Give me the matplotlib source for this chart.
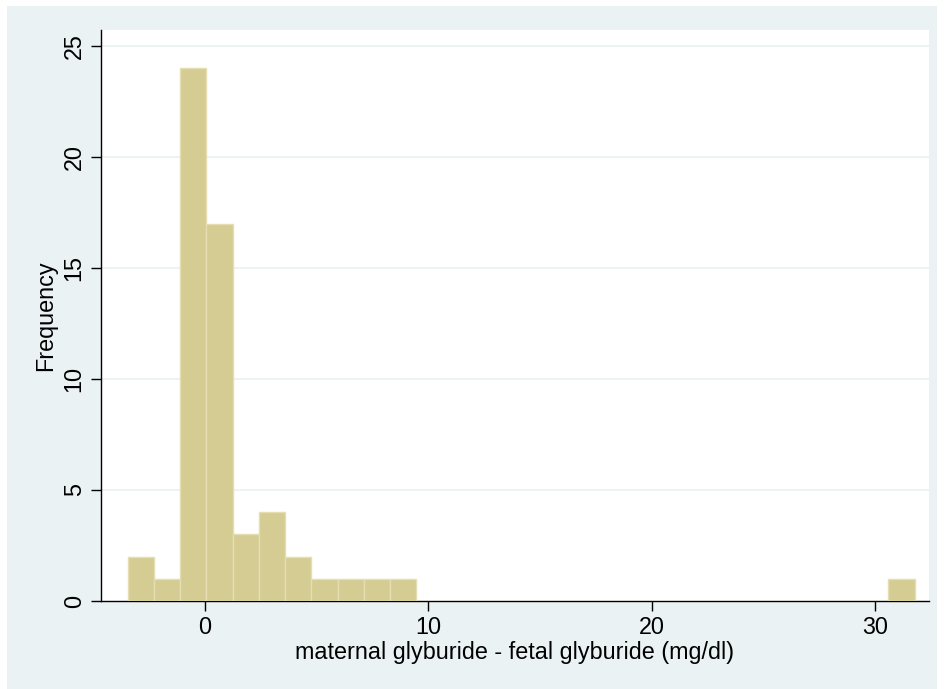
import matplotlib
matplotlib.use("Agg")
import matplotlib.pyplot as plt
from matplotlib.patches import Rectangle
import numpy as np

# ---- data ----
bin_start = -3.46
bin_end = 31.78
n_bins = 30
counts = [2, 1, 24, 17, 3, 4, 2, 1, 1, 1, 1,
          0, 0, 0, 0, 0, 0, 0, 0, 0, 0, 0, 0, 0, 0, 0, 0, 0, 0,
          1]
x_ticks = [0, 10, 20, 30]
y_ticks = [0, 5, 10, 15, 20, 25]
x_label = "maternal glyburide - fetal glyburide (mg/dl)"
y_label = "Frequency"

plt.rcParams['font.family'] = ['Liberation Sans', 'DejaVu Sans']

W, H = 944, 689
fig = plt.figure(figsize=(W / 100, H / 100), dpi=100)
fig.patch.set_facecolor('white')
bg = '#EAF2F3'
fig.patches.append(Rectangle((7 / W, -0.01), (937 - 7) / W, (689 - 6) / H + 0.01,
                             transform=fig.transFigure, facecolor=bg,
                             edgecolor='none', zorder=-10))

left, right, top, bottom = 101, 929, 30, 601
ax = fig.add_axes([left / W, 1 - bottom / H, (right - left) / W, (bottom - top) / H])
ax.set_zorder(5)
ax.set_facecolor('white')

edges = np.linspace(bin_start, bin_end, n_bins + 1)
widths = np.diff(edges)
ax.bar(edges[:-1], counts, width=widths, align='edge',
       facecolor='#D4CC92', edgecolor='#E4DEB2', linewidth=1.0, zorder=3)

ax.set_xlim(-4.66, 32.42)
ax.set_ylim(0, 25.72)

fs = 16.8
ax.set_xticks(x_ticks)
ax.set_yticks(y_ticks)
ax.set_yticklabels([str(v) for v in y_ticks], rotation=90, va='center')
ax.tick_params(axis='both', direction='out', length=7, width=1.0, color='black',
               labelsize=fs, pad=4, labelcolor='black')

for v in y_ticks[1:]:
    ax.axhline(v, color='#EAF2F3', linewidth=1.3, zorder=1)

for s in ['top', 'right']:
    ax.spines[s].set_visible(False)
for s in ['left', 'bottom']:
    ax.spines[s].set_color('black')
    ax.spines[s].set_linewidth(1.0)

ax.set_xlabel(x_label, fontsize=fs, labelpad=1)
ax.set_ylabel(y_label, fontsize=fs, labelpad=4)

fig.savefig("out.png", dpi=100, facecolor=fig.get_facecolor())
